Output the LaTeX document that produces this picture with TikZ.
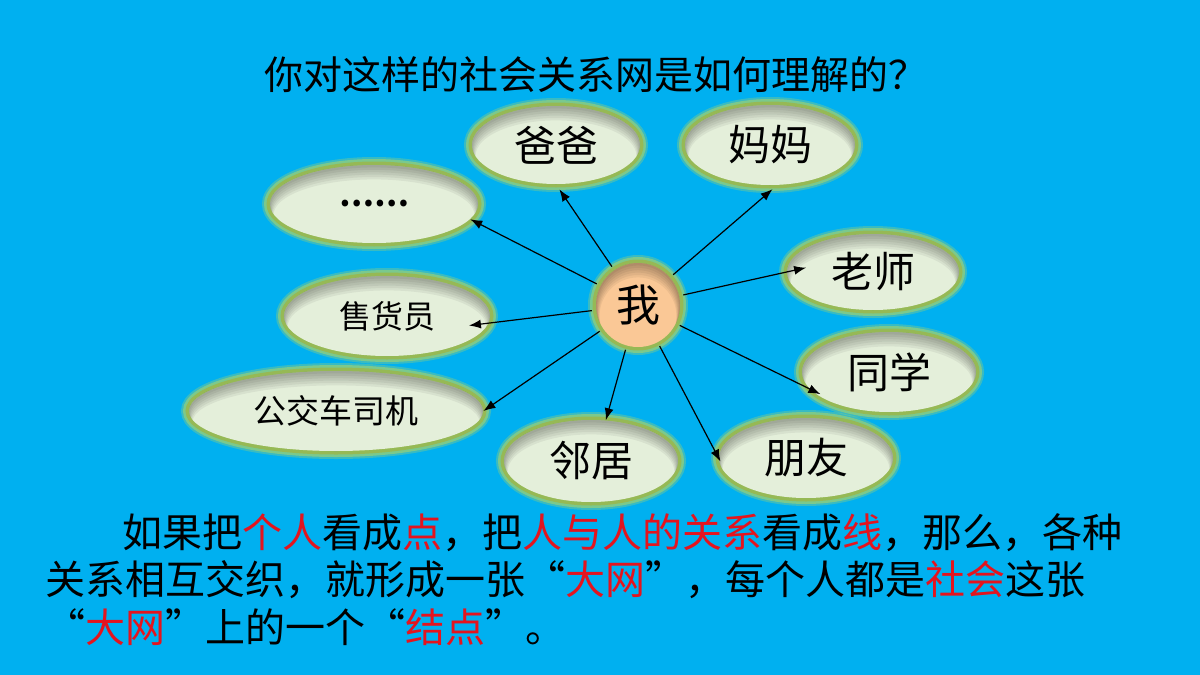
\documentclass[tikz,border=0pt]{standalone}
\usepackage{fontspec}
\newfontfamily\cjk{Noto Sans CJK SC}
\usepackage{tikz}
\usetikzlibrary{calc,shapes.geometric,arrows.meta}
\usepackage{xcolor}

\definecolor{fondo}{RGB}{0,176,240}
\definecolor{burbuja}{RGB}{228,239,218}
\definecolor{halo}{RGB}{150,185,85}
\definecolor{halofuera}{RGB}{190,215,90}
\definecolor{yo}{RGB}{250,200,150}
\definecolor{rojo}{RGB}{228,20,30}

\newcommand{\rj}[1]{\textcolor{rojo}{#1}}
\newcommand{\oq}{\makebox[1em][c]{“}}
\newcommand{\cq}{\makebox[1em][c]{”}}

\tikzset{
  burbuja/.style={ellipse, inner sep=0pt, fill=#1,
    font=\cjk\fontsize{21pt}{24pt}\selectfont,
    preaction={draw=halofuera, line width=8pt, opacity=0.3},
    preaction={draw=halofuera, line width=6pt, opacity=0.5},
    preaction={draw=halo, line width=3.5pt},
    path picture={
      \foreach \s in {1,...,6}
        \fill[black, opacity=0.055, even odd rule]
          let \p1=(path picture bounding box.center),
              \p2=(path picture bounding box.north east) in
          (path picture bounding box.south west) rectangle (path picture bounding box.north east)
          ({\x1},{\y1-\s*0.9pt}) ellipse [x radius={\x2-\x1-\s*0.3pt}, y radius={\y2-\y1-\s*0.3pt}];
    }},
  burbuja/.default=burbuja,
  flecha/.style={->, line width=0.6pt, shorten <=2pt},
  parrafo/.style={anchor=west, inner sep=0pt, font=\cjk\fontsize{20pt}{24pt}\selectfont},
}

\begin{document}
\begin{tikzpicture}[x=0.5pt,y=-0.5pt,>={Latex[length=6pt,width=4.5pt]}]

  % Fondo
  \useasboundingbox (0,0) rectangle (1200,675);
  \fill[fondo] (0,0) rectangle (1200,675);

  % Pregunta
  \node[inner sep=0pt, font=\cjk\fontsize{19.5pt}{22pt}\selectfont] (pregunta) at (596,75)
    {你对这样的社会关系网是如何理解的？};

  % Nodo central
  \node[burbuja=yo, circle, minimum size=42pt, font=\cjk\fontsize{22pt}{24pt}\selectfont] (me) at (638,305) {我};

  % Relaciones
  \node[burbuja, minimum width=84pt, minimum height=39pt] (baba) at (556,145) {爸爸};
  \node[burbuja, minimum width=85pt, minimum height=40pt] (mama) at (770,145) {妈妈};
  \node[burbuja, minimum width=86pt, minimum height=38pt] (laoshi) at (873,272) {老师};
  \node[burbuja, minimum width=87pt, minimum height=40pt] (tongxue) at (889,372) {同学};
  \node[burbuja, minimum width=87pt, minimum height=40pt] (pengyou) at (806,458) {朋友};
  \node[burbuja, minimum width=87pt, minimum height=41pt] (linju) at (591,461) {邻居};
  \node[burbuja, minimum width=147pt, minimum height=40pt, font=\cjk\fontsize{16.5pt}{20pt}\selectfont] (siji) at (336,411) {公交车司机};
  \node[burbuja, minimum width=103pt, minimum height=40pt, font=\cjk\fontsize{16pt}{20pt}\selectfont] (shouhuo) at (387,316) {售货员};
  \node[burbuja, minimum width=104pt, minimum height=39pt, font=\cjk\fontsize{15.5pt}{20pt}\bfseries\selectfont] (otros) at (374,204) {……};

  % Flechas desde "me"
  \draw[flecha, shorten >=3pt] (me) -- (baba.south);
  \draw[flecha, shorten >=3pt] (me) -- (mama.-80);
  \draw[flecha] (me) -- (otros.-9);
  \draw[flecha, shorten >=-10pt] (me) -- (laoshi.west);
  \draw[flecha, shorten >=-10pt] (me) -- (shouhuo.-4);
  \draw[flecha] (me) -- (siji.east);
  \draw[flecha] (me) -- (linju.70);
  \draw[flecha, shorten >=-2pt] (me) -- (pengyou.west);
  \draw[flecha, shorten >=-6pt] (me) -- (tongxue.192);

  % Texto inferior
  \node[parrafo] (linea1) at (122,533)
    {如果把\rj{个人}看成\rj{点}，把\rj{人与人的关系}看成\rj{线}，那么，各种};
  \node[parrafo] (linea2) at (45,580)
    {关系相互交织，就形成一张\oq\rj{大网}\cq，每个人都是\rj{社会}这张};
  \node[parrafo] (linea3) at (45,627)
    {\oq\rj{大网}\cq 上的一个\oq\rj{结点}\cq。};

\end{tikzpicture}
\end{document}
